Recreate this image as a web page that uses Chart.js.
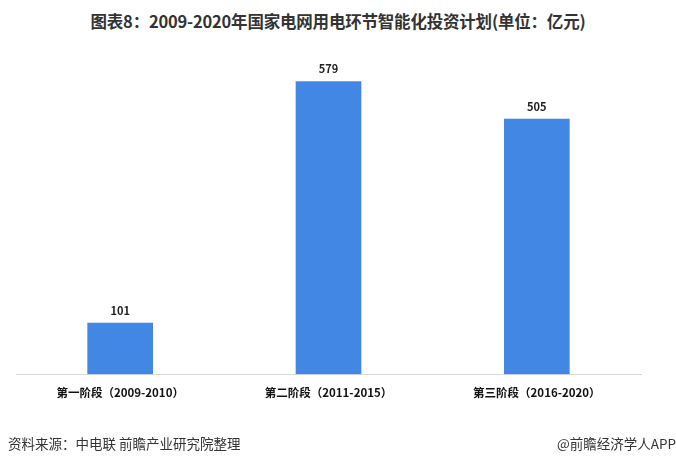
<!DOCTYPE html>
<html lang="zh">
<head>
<meta charset="UTF-8">
<title>图表8</title>
<script src="https://cdn.jsdelivr.net/npm/chart.js"></script>
<style>
body {
    margin: 0;
    padding: 0;
    background: #fff;
    font-family: "Noto Sans CJK SC", "Noto Sans", sans-serif;
}
.wrap {
    position: relative;
    width: 676px;
    height: 465px;
    overflow: hidden;
}
.title {
    position: absolute;
    top: 9px;
    left: 0;
    width: 676px;
    text-align: center;
    font-size: 16.5px;
    font-weight: bold;
    color: #333;
    letter-spacing: -0.2px;
}
#chart {
    position: absolute;
    top: 0;
    left: 0;
}
.source {
    position: absolute;
    left: 8px;
    top: 433px;
    font-size: 13.5px;
    color: #333;
}
.brand {
    position: absolute;
    right: 0;
    top: 433px;
    font-size: 13.5px;
    color: #333;
}
</style>
</head>
<body>
<div class="wrap">
    <div class="title">图表8：2009-2020年国家电网用电环节智能化投资计划(单位：亿元)</div>
    <canvas id="chart" width="676" height="465"></canvas>
    <div class="source">资料来源：中电联 前瞻产业研究院整理</div>
    <div class="brand">@前瞻经济学人APP</div>
</div>
<script>
// 数据
const categories = ["第一阶段（2009-2010）", "第二阶段（2011-2015）", "第三阶段（2016-2020）"];
const investment = [101, 579, 505];

// 在柱子上方写数值
const valueLabels = {
    id: "valueLabels",
    afterDatasetsDraw(chart) {
        const ctx = chart.ctx;
        const meta = chart.getDatasetMeta(0);
        ctx.save();
        ctx.font = "bold 11px 'Noto Sans CJK SC', sans-serif";
        ctx.fillStyle = "#222";
        ctx.textAlign = "center";
        ctx.textBaseline = "bottom";
        meta.data.forEach((bar, i) => {
            ctx.fillText(investment[i], bar.x, bar.y - 7);
        });
        ctx.restore();
    }
};

const ctx = document.getElementById("chart").getContext("2d");
new Chart(ctx, {
    type: "bar",
    data: {
        labels: categories,
        datasets: [{
            data: investment,
            backgroundColor: "#4287e4",
            barThickness: 65
        }]
    },
    options: {
        responsive: false,
        animation: false,
        layout: {
            padding: { left: 16, right: 35, top: 71, bottom: 61 }
        },
        plugins: {
            legend: { display: false },
            tooltip: { enabled: false }
        },
        scales: {
            x: {
                grid: { display: false },
                border: { color: "#d9d9d9", width: 1 },
                ticks: {
                    color: "#111",
                    padding: 4,
                    font: { size: 11.5, weight: "bold", family: "'Noto Sans CJK SC', sans-serif" }
                }
            },
            y: {
                display: false,
                min: 0,
                max: 600
            }
        }
    },
    plugins: [valueLabels]
});
</script>
</body>
</html>
